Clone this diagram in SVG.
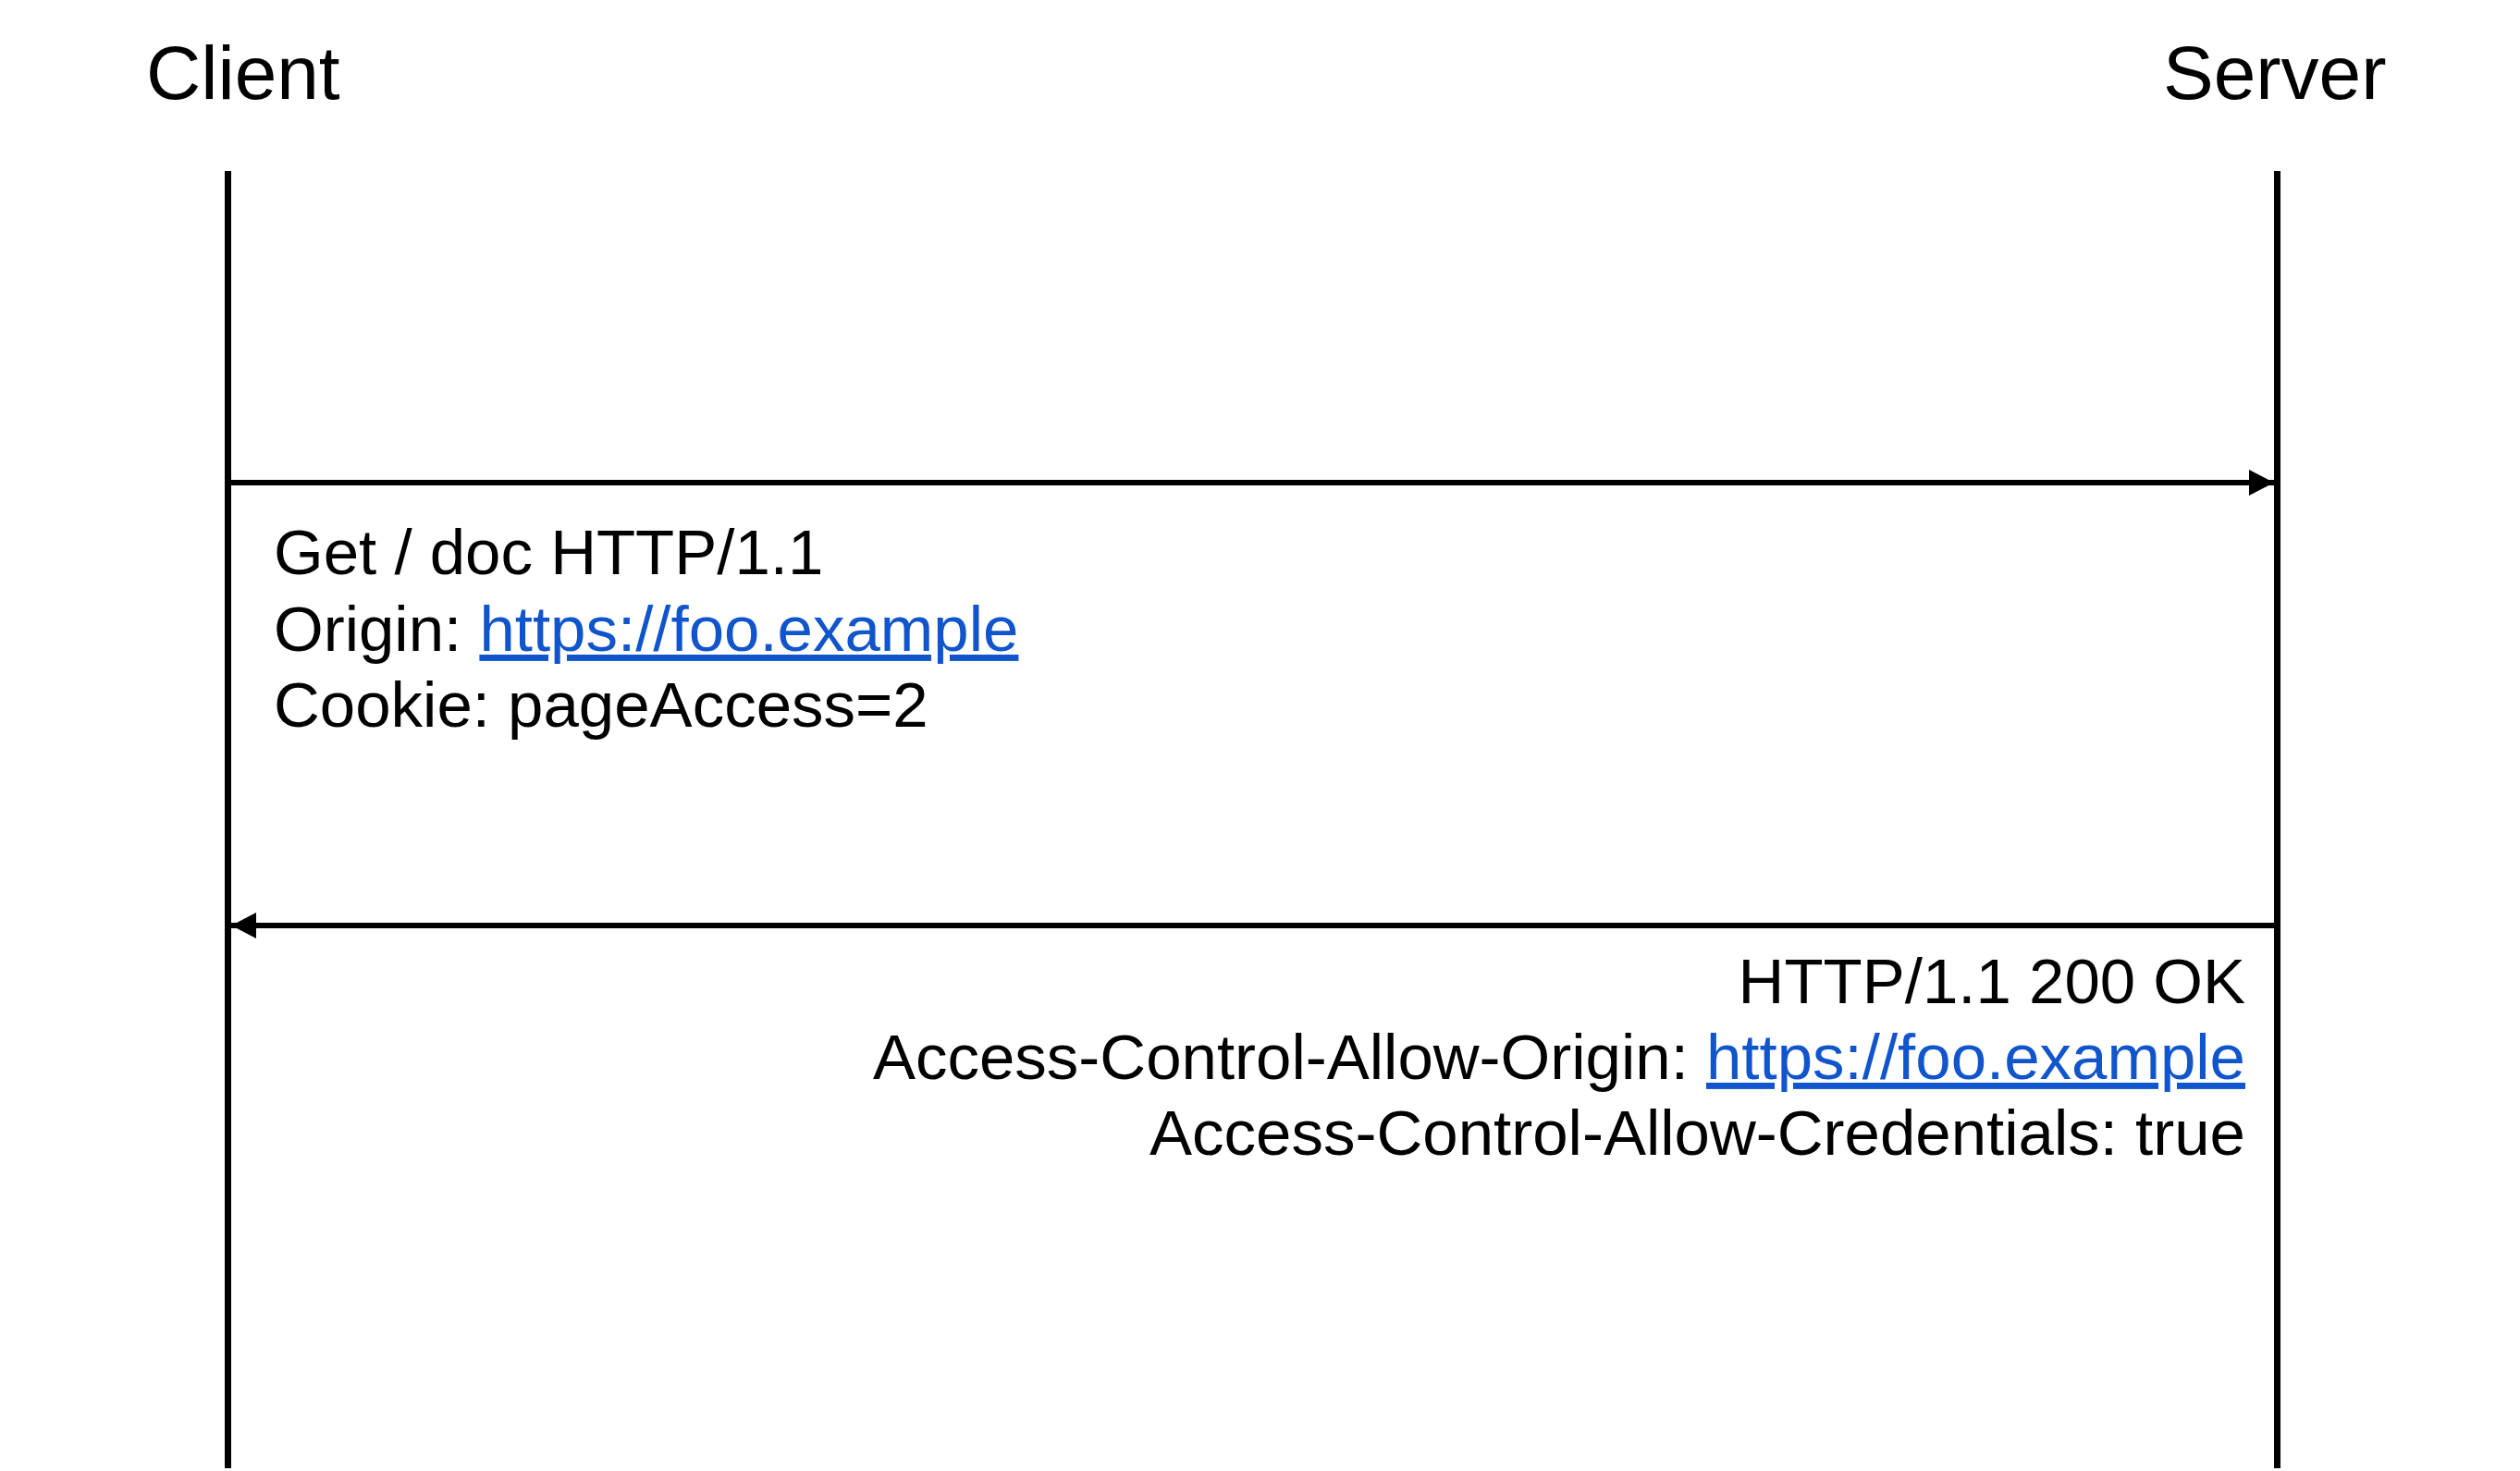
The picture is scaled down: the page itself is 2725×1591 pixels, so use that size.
<svg xmlns="http://www.w3.org/2000/svg" width="2725" height="1591" viewBox="0 0 2725 1591">
  <style>
    .title { font-family: "Liberation Sans", Arial, sans-serif; font-size: 82px; fill: #000; }
    .msg { font-family: "Liberation Sans", Arial, sans-serif; font-size: 69px; fill: #000; }
    .link { fill: #1155CC; text-decoration: underline; }
    .life { stroke: #000; stroke-width: 7; fill: none; }
    .conn { stroke: #000; stroke-width: 6; fill: none; }
  </style>
  <defs>
    <marker id="arrow" markerUnits="userSpaceOnUse" markerWidth="28" markerHeight="28" refX="27" refY="14" orient="auto" overflow="visible">
      <path d="M0,0 L27,14 L0,28 z" fill="#000"/>
    </marker>
  </defs>
  <rect width="2725" height="1591" fill="#fff"/>

  <g id="client">
    <text class="title" x="158" y="107">Client</text>
    <line class="life" x1="246.5" y1="185" x2="246.5" y2="1588"/>
  </g>

  <g id="server">
    <text class="title" x="2339" y="107">Server</text>
    <line class="life" x1="2462.5" y1="185" x2="2462.5" y2="1588"/>
  </g>

  <g id="connectors">
    <line class="conn" x1="250" y1="522" x2="2459" y2="522" marker-end="url(#arrow)"/>
    <line class="conn" x1="2459" y1="1001" x2="250" y2="1001" marker-end="url(#arrow)"/>
  </g>

  <g id="request-label">
    <text class="msg" x="296" y="621">Get / doc HTTP/1.1</text>
    <text class="msg" x="296" y="704">Origin: <tspan class="link">https://foo.example</tspan></text>
    <text class="msg" x="296" y="786">Cookie: pageAccess=2</text>
  </g>

  <g id="response-label">
    <text class="msg" x="2428" y="1085" text-anchor="end">HTTP/1.1 200 OK</text>
    <text class="msg" x="2428" y="1167" text-anchor="end">Access-Control-Allow-Origin: <tspan class="link">https://foo.example</tspan></text>
    <text class="msg" x="2428" y="1249" text-anchor="end">Access-Control-Allow-Credentials: true</text>
  </g>
</svg>
